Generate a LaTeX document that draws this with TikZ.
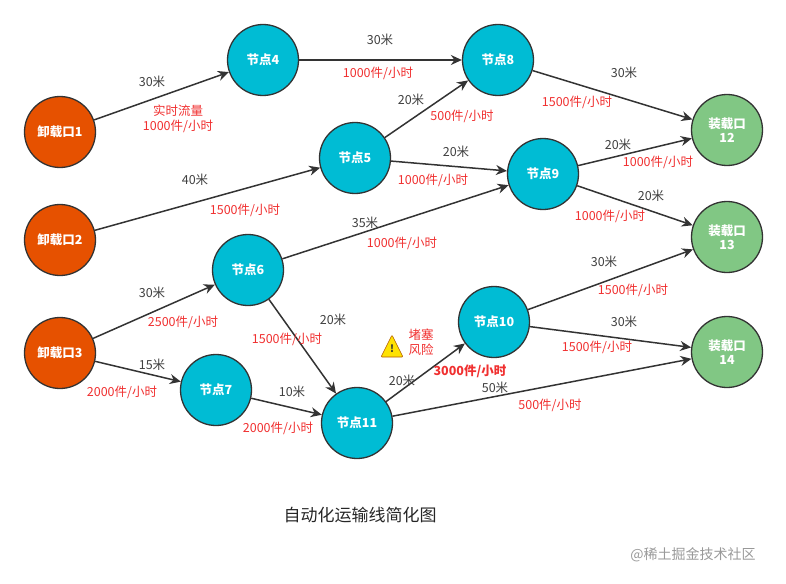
\documentclass[tikz,border=0pt]{standalone}
\usepackage{fontspec}
\setmainfont{Noto Sans CJK SC}
\usetikzlibrary{arrows.meta}
\definecolor{orng}{HTML}{E65100}
\definecolor{cyn}{HTML}{00BCD4}
\definecolor{grn}{HTML}{81C784}
\definecolor{lred}{HTML}{F03030}
\tikzset{
 nd/.style={circle,draw=black!80,line width=1.3pt,minimum size=71pt,inner sep=0pt,text=white,font=\bfseries\fontsize{12.5}{14}\selectfont,align=center},
 src/.style={nd,fill=orng},
 mid/.style={nd,fill=cyn},
 dst/.style={nd,fill=grn},
 ed/.style={draw=black!80,line width=1.5pt,-{Stealth[length=11pt,width=10pt]}},
 dl/.style={text=black!75,font=\fontsize{12.5}{15}\selectfont},
 fl/.style={text=lred,font=\fontsize{12.5}{15}\selectfont}
}
\begin{document}
\begin{tikzpicture}[x=1pt,y=-1pt]
\useasboundingbox (0,0) rectangle (786,583);
\node[src] (u1) at (60,132) {卸载口1};
\node[src] (u2) at (60,240) {卸载口2};
\node[src] (u3) at (60,353) {卸载口3};
\node[mid] (n4) at (263,60) {节点4};
\node[mid] (n5) at (355,158) {节点5};
\node[mid] (n6) at (248,270) {节点6};
\node[mid] (n7) at (216,390) {节点7};
\node[mid] (n8) at (498,60) {节点8};
\node[mid] (n9) at (543,174) {节点9};
\node[mid] (n10) at (494,322) {节点10};
\node[mid] (n11) at (357,423) {节点11};
\node[dst] (l12) at (727,130) {装载口\\12};
\node[dst] (l13) at (727,237) {装载口\\13};
\node[dst] (l14) at (727,352) {装载口\\14};
\draw[ed] (u1) -- (n4);
\draw[ed] (u2) -- (n5);
\draw[ed] (u3) -- (n6);
\draw[ed] (u3) -- (n7);
\draw[ed] (n4) -- (n8);
\draw[ed] (n5) -- (n8);
\draw[ed] (n5) -- (n9);
\draw[ed] (n6) -- (n9);
\draw[ed] (n6) -- (n11);
\draw[ed] (n7) -- (n11);
\draw[ed] (n8) -- (l12);
\draw[ed] (n9) -- (l12);
\draw[ed] (n9) -- (l13);
\draw[ed] (n10) -- (l13);
\draw[ed] (n10) -- (l14);
\draw[ed] (n11) -- (n10);
\draw[ed] (n11) -- (l14);
\node[dl] (a1) at (152,82) {30米};
\node[fl,align=center] (b1) at (178,119) {实时流量\\1000件/小时};
\node[dl] (a2) at (195,180) {40米};
\node[fl] (b2) at (245,210) {1500件/小时};
\node[dl] (a3) at (152,293) {30米};
\node[fl] (b3) at (183,322) {2500件/小时};
\node[dl] (a4) at (152,365) {15米};
\node[fl] (b4) at (122,392) {2000件/小时};
\node[dl] (a5) at (380,40) {30米};
\node[fl] (b5) at (378,73) {1000件/小时};
\node[dl] (a6) at (411,100) {20米};
\node[fl] (b6) at (462,116) {500件/小时};
\node[dl] (a7) at (456,152) {20米};
\node[fl] (b7) at (433,180) {1000件/小时};
\node[dl] (a8) at (365,223) {35米};
\node[fl] (b8) at (402,243) {1000件/小时};
\node[dl] (a9) at (333,320) {20米};
\node[fl] (b9) at (287,339) {1500件/小时};
\node[dl] (a10) at (292,392) {10米};
\node[fl] (b10) at (278,428) {2000件/小时};
\node[dl] (a11) at (624,73) {30米};
\node[fl] (b11) at (577,102) {1500件/小时};
\node[dl] (a12) at (618,145) {20米};
\node[fl] (b12) at (658,162) {1000件/小时};
\node[dl] (a13) at (651,196) {20米};
\node[fl] (b13) at (610,216) {1000件/小时};
\node[dl] (a14) at (604,262) {30米};
\node[fl] (b14) at (633,290) {1500件/小时};
\node[dl] (a15) at (624,322) {30米};
\node[fl] (b15) at (597,347) {1500件/小时};
\node[dl] (a16) at (402,381) {20米};
\node[fl,font=\bfseries\fontsize{12.5}{15}\selectfont] (b16) at (470,371) {3000件/小时};
\node[dl] (a17) at (495,388) {50米};
\node[fl] (b17) at (550,405) {500件/小时};
\node[fl,align=left] (risk) at (421,342) {堵塞\\风险};
\fill[yellow!85!orange,draw=orange!70!black,line width=0.6pt,rounded corners=1pt] (381,357) -- (392,335) -- (403,357) -- cycle;
\node[font=\bfseries\fontsize{10}{10}\selectfont,text=black!80] (warn) at (392,349) {!};
\node[font=\fontsize{17}{19}\selectfont,text=black!85] (title) at (360,515) {自动化运输线简化图};
\node[font=\fontsize{14}{16}\selectfont,text=black!40] (wm) at (693,555) {@稀土掘金技术社区};
\end{tikzpicture}
\end{document}
